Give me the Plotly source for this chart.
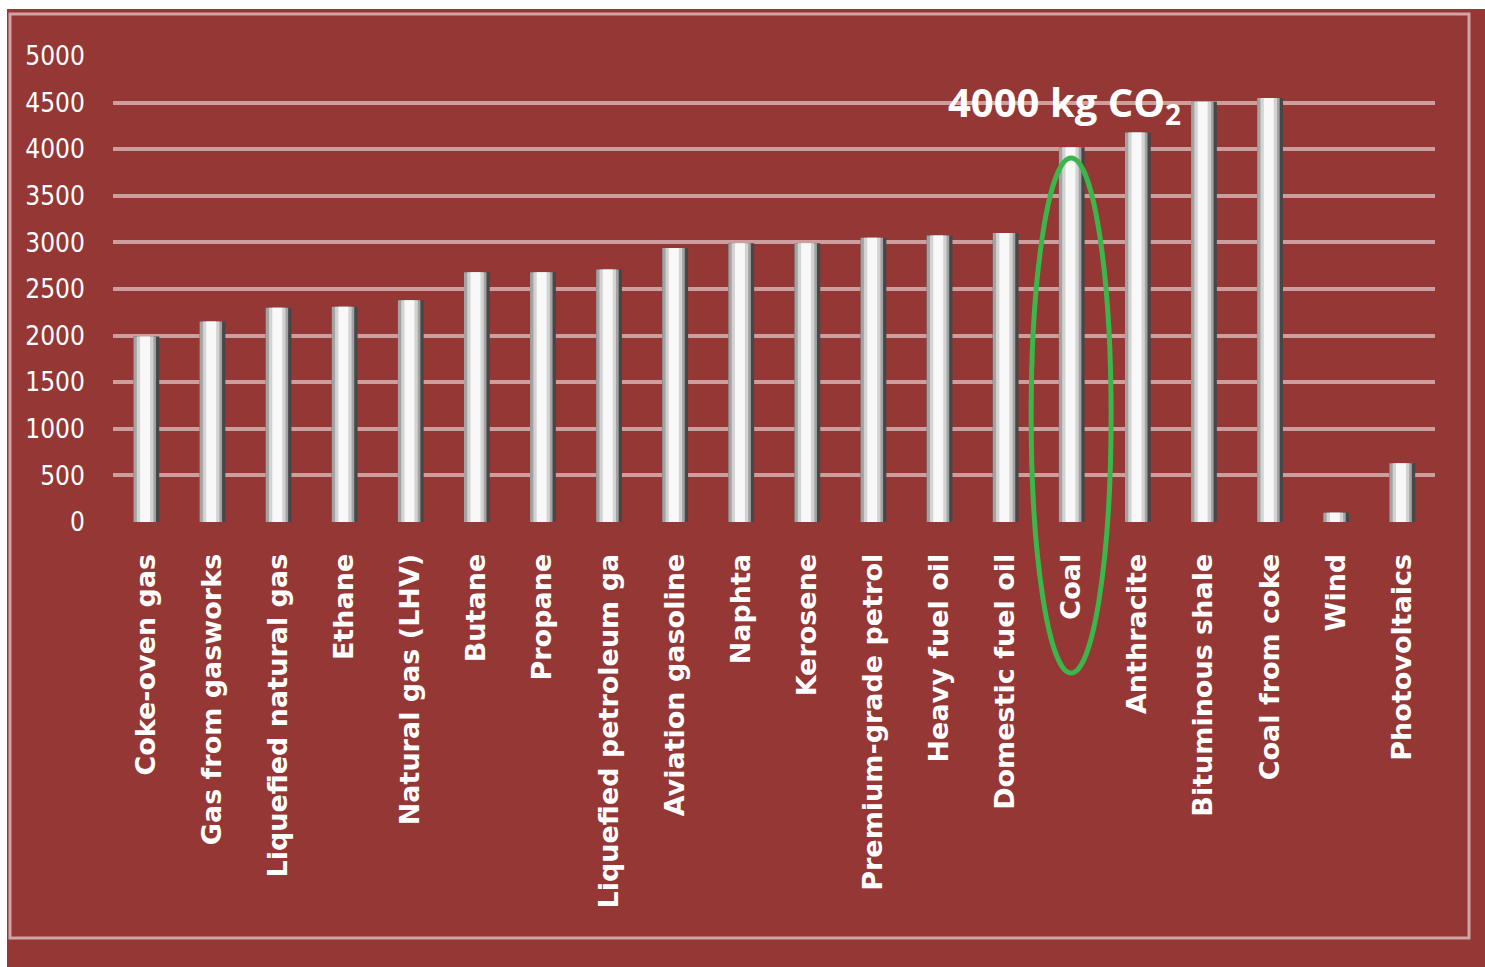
import plotly.graph_objects as go

categories = ["Coke-oven gas", "Gas from gasworks", "Liquefied natural gas", "Ethane",
              "Natural gas (LHV)", "Butane", "Propane", "Liquefied petroleum ga",
              "Aviation gasoline", "Naphta", "Kerosene", "Premium-grade petrol",
              "Heavy fuel oil", "Domestic fuel oil", "Coal", "Anthracite",
              "Bituminous shale", "Coal from coke", "Wind", "Photovoltaics"]
values = [1990, 2150, 2300, 2310, 2380, 2680, 2680, 2710, 2940, 2990,
          2990, 3050, 3075, 3100, 4020, 4180, 4510, 4550, 100, 630]
y_ticks = [0, 500, 1000, 1500, 2000, 2500, 3000, 3500, 4000, 4500, 5000]

RED = "#943735"
GRID = "rgba(255,255,255,0.52)"

fig = go.Figure()
# cylinder look: stacked overlay layers of different widths
layers = [
    ("#474747", 0.39, -0.19),
    ("#a3a3a3", 0.34, -0.19),
    ("#d3d3d3", 0.25, -0.14),
    ("#f8f8f8", 0.15, -0.09),
]
for color, w, off in layers:
    fig.add_trace(go.Bar(x=categories, y=values, width=w, offset=off,
                         marker=dict(color=color, line=dict(width=0)),
                         hoverinfo="skip", showlegend=False))

fig.update_layout(
    width=1485, height=967,
    barmode="overlay",
    paper_bgcolor="white",
    plot_bgcolor="rgba(0,0,0,0)",
    margin=dict(l=113, r=50, t=56, b=445),
    xaxis=dict(showgrid=False, showline=False, zeroline=False,
               tickangle=-90, ticks="outside", ticklen=20,
               tickcolor="rgba(0,0,0,0)",
               tickfont=dict(family="DejaVu Sans", size=27, color="white", weight="bold"),
               range=[-0.5, len(categories) - 0.5]),
    yaxis=dict(range=[0, 5000], tickvals=y_ticks, showgrid=True,
               gridcolor=GRID, gridwidth=4, zeroline=False, showline=False,
               ticks="outside", ticklen=22, tickcolor="rgba(0,0,0,0)",
               tickfont=dict(family="DejaVu Sans Condensed", size=26, color="white")),
    font=dict(family="DejaVu Sans", color="white"),
)

def px_x(p):
    return (p - 113) / 1322.0

def px_y(p):
    return (522 - p) / 466.0

# red background
fig.add_shape(type="rect", xref="paper", yref="paper", layer="below",
              x0=px_x(7), x1=px_x(1495), y0=px_y(9), y1=px_y(975),
              fillcolor=RED, line=dict(width=0))
# inner frame
fig.add_shape(type="rect", xref="paper", yref="paper", layer="below",
              x0=px_x(10), x1=px_x(1469), y0=px_y(14), y1=px_y(938),
              fillcolor="rgba(0,0,0,0)", line=dict(color="rgba(255,255,255,0.55)", width=3))

# green ellipse around Coal
fig.add_shape(type="circle", xref="x", yref="paper", layer="above",
              x0=13.39, x1=14.60, y0=px_y(673), y1=px_y(158),
              line=dict(color="#3cb54a", width=5))

fig.add_annotation(xref="paper", yref="paper", x=px_x(946), y=px_y(103),
                   xanchor="left", yanchor="middle", showarrow=False,
                   text="4000 kg CO<sub>2</sub>",
                   font=dict(family="Open Sans", size=40, color="white", weight="bold"))

fig.write_html("out.html", config={"displayModeBar": False},
               post_script="document.body.style.margin='0px';document.body.style.overflow='hidden';")
